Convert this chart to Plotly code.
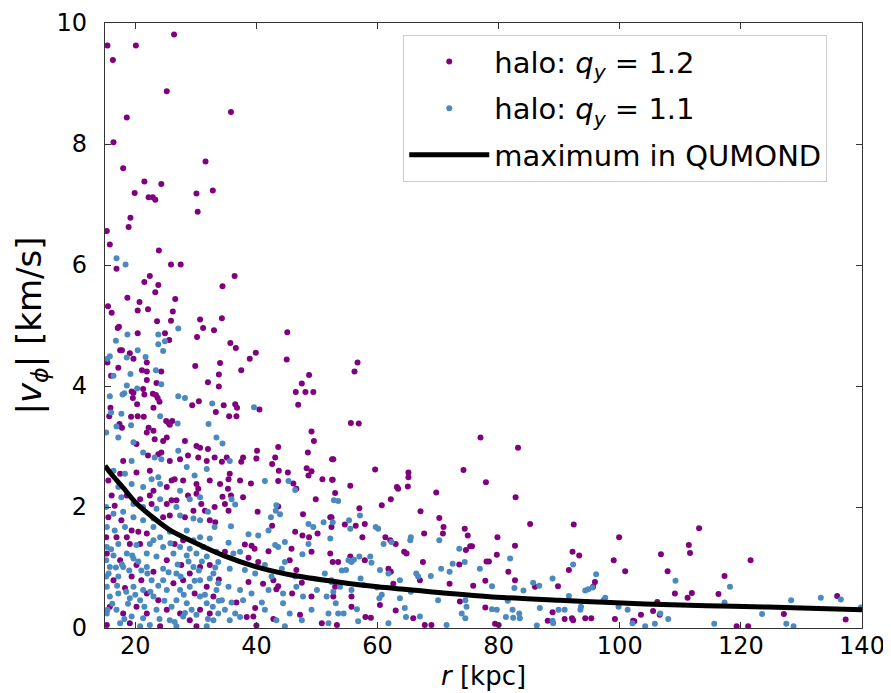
import plotly.graph_objects as go

# ---- data (r [kpc], |v_phi| [km/s]) ----
halo12_upper = [
    (15.4,9.63),(20.1,9.63),(26.4,9.81),(16.3,9.39),(25.2,8.87),(35.8,8.53),(18.6,8.44),(16.4,8.03),
    (31.6,7.71),(18.0,7.60),(21.5,7.38),(24.3,7.34),(19.9,7.19),(22.2,7.12),(22.9,7.12),(23.3,7.08),
    (30.1,7.18),(32.8,7.23),(30.3,6.88),(19.2,6.78),(18.9,6.63),(15.3,6.56),(15.8,6.34),(23.9,6.24),
    (16.9,5.94),(25.9,6.01),(27.5,6.01),(36.4,5.82),(22.4,5.82),(21.5,5.72),(23.8,5.67),(34.4,5.65),
    (23.3,5.55),(18.7,5.46),(26.6,5.44),(20.7,5.39),(15.5,5.32),(16.1,5.21),(20.4,5.25),(22.1,5.27),
    (26.2,5.23),(30.7,5.10),(34.3,5.12),(25.9,5.08),(23.6,5.07),(17.3,4.98),(17.1,4.96),(31.2,4.96),
    (33.0,4.92),(45.1,4.89),(24.9,4.87),(20.4,4.87),(30.2,4.81),(25.6,4.76),(35.7,4.71),(36.6,4.63),
    (17.5,4.59),(17.8,4.59),(19.1,4.54),(19.7,4.45),(38.9,4.45),(39.9,4.55),(45.0,4.44),(34.0,4.38),
    (29.9,4.33),(15.4,4.39),(21.9,4.39),(17.2,4.30),(21.1,4.26),(21.9,4.24),(24.3,4.24),(37.5,4.26),
    (16.0,4.17),(33.8,4.19),(48.7,4.18),(21.9,4.10),(32.0,4.06),(23.5,4.05),(33.8,3.99),(47.5,4.04),
    (21.3,3.95),(19.4,3.91),(19.7,3.89),(46.5,3.90),(48.1,3.90),(49.4,3.90),(22.9,3.87),(23.4,3.85),
    (23.7,3.80),(24.0,3.74),(19.6,3.80),(21.5,3.86),(30.5,3.75),(29.4,3.68),(34.6,3.68),(36.5,3.70),
    (36.8,3.64),(40.5,3.61),(46.9,3.69),(20.3,3.70),(23.0,3.64),(15.9,3.64),(33.3,3.57),(35.5,3.50),
    (36.7,3.50),(19.3,3.49),(20.4,3.50),(21.4,3.49),(15.7,3.50),(25.1,3.42),(25.5,3.39),(26.1,3.42),
    (25.7,3.36),(17.4,3.37),(17.8,3.31),(22.2,3.31),(56.7,4.39),(56.2,4.24),
]
halo12_inner = [
    (21.9,3.23),(23.0,3.26),(23.2,3.12),(24.6,3.09),(25.2,3.15),(28.2,3.09),(30.1,3.01),(30.7,2.98),
    (32.0,2.96),(20.2,3.04),(24.3,2.90),(23.8,2.87),(22.1,2.85),(18.0,2.76),(25.7,2.76),(27.4,2.79),
    (28.7,2.85),(30.4,2.82),(31.8,2.76),(33.1,2.82),(15.55,2.44),(17.5,2.55),(20.2,2.57),(22.4,2.60),
    (23.0,2.27),(25.2,2.33),(26.0,2.44),(26.5,2.46),(27.9,2.44),(30.1,2.38),(30.4,2.30),(30.1,2.22),
    (28.7,2.19),(32.3,2.44),(16.1,2.19),(16.6,2.02),(18.6,2.19),(20.8,2.13),(22.4,2.19),(22.7,2.05),
    (25.2,2.05),(26.0,2.11),(26.8,2.11),(30.9,2.05),(31.5,1.94),(29.6,1.94),(15.55,1.83),(17.7,1.78),
    (19.4,1.61),(20.5,1.59),(21.9,1.56),(18.6,1.50),(24.6,1.83),(25.7,1.86),(28.2,1.83),(32.3,1.78),
    (33.1,2.00),(15.2,1.50),(16.9,1.50),(19.1,1.39),(20.8,1.39),(26.5,1.39),(27.9,1.45),
    (15.3,1.23),(17.5,1.12),(20.2,1.04),(21.0,0.79),(19.4,0.85),(23.0,0.93),(25.2,1.12),(27.6,1.04),
    (29.0,0.90),(30.7,1.01),(32.3,1.04),(16.4,0.79),(18.3,0.66),(21.9,0.57),(23.8,0.46),(26.3,0.74),
    (27.9,0.79),(29.8,0.57),(31.8,0.68),(32.9,0.52),(15.8,0.35),(18.0,0.24),(20.2,0.35),(21.9,0.24),
    (25.2,0.30),(27.4,0.24),(29.0,0.13),(30.7,0.30),(32.3,0.24),(15.3,0.05),(19.1,0.08),(24.1,0.03),
    (30.1,0.03),
]
halo12_mid = [
    (49.1,3.25),(49.5,3.09),(43.6,2.99),(40.1,2.93),(43.1,2.82),(40.0,2.80),(37.8,2.82),(37.5,2.75),
    (35.1,2.82),(34.3,2.75),(42.6,2.71),(48.5,2.90),(48.3,2.64),(49.1,2.59),(48.6,2.52),(45.2,2.57),
    (43.7,2.60),(50.9,2.46),(52.5,2.45),(52.5,2.79),(35.6,2.55),(35.4,2.46),(34.0,2.38),(37.3,2.44),
    (39.1,2.39),(43.6,2.43),(46.1,2.39),(46.6,2.30),(35.3,2.30),(34.4,2.17),(35.8,2.19),(37.8,2.16),
    (34.8,2.05),(35.4,1.94),(43.6,2.01),(40.2,1.92),(49.8,2.13),(47.7,1.88),(52.2,1.83),(33.2,1.75),
    (42.6,1.69),(46.4,1.59),(47.6,1.53),(48.7,1.50),(50.1,1.56),(52.4,1.67),(38.1,1.38),(39.2,1.36),
    (39.7,1.31),(42.0,1.27),(45.8,1.31),(49.1,1.26),(52.2,1.23),(34.8,1.26),(38.7,1.16),(40.3,1.09),
    (45.5,1.12),(46.6,0.96),(33.8,0.80),(38.7,0.76),(41.1,0.73),(42.8,0.79),(43.3,0.64),(43.6,0.69),
    (47.5,0.75),(45.9,0.57),(49.1,0.52),(36.7,0.42),(39.8,0.33),(39.5,0.19),(42.8,0.15),(40.0,0.04),
    (38.4,0.18),(47.2,0.22),(50.8,0.08),
    (55.6,3.39),(56.9,3.38),(52.7,2.79),(52.6,2.45),(53.0,2.23),(55.5,2.35),(59.6,2.62),(65.1,2.57),
    (65.1,2.49),(65.0,2.34),(63.2,2.33),(63.4,2.30),(62.2,2.13),(60.7,2.03),(57.0,1.98),(69.7,2.24),
    (74.2,2.61),(67.1,1.93),(52.4,1.83),(54.6,1.71),(56.4,1.69),(57.9,1.72),(57.5,1.50),(61.3,1.50),
    (62.1,1.45),(63.0,1.39),(67.7,1.56),(70.2,1.82),(70.9,1.67),(70.8,1.56),(74.4,1.64),(74.9,1.53),
    (64.4,1.26),(64.8,1.23),(67.5,1.09),(52.6,1.09),(53.5,1.09),(55.5,1.18),(57.9,1.12),(61.8,0.98),
    (62.2,0.93),(62.6,0.73),(67.0,0.79),(71.9,0.73),(73.5,1.05),(74.6,1.29),(73.6,0.44),(53.0,0.68),
    (52.7,0.52),(55.7,0.52),(55.7,0.35),(58.0,0.18),(58.9,0.17),(60.4,0.38),(63.0,0.29),(65.9,0.16),
    (67.8,0.05),(53.3,0.05),(68.9,0.05),
]
halo12_outer = [
    (77.0,3.15),(83.2,2.98),(77.9,2.41),(82.8,2.16),(85.2,1.72),(92.4,1.71),(79.8,1.50),(82.7,1.36),
    (75.3,1.35),(75.6,1.35),(92.2,1.26),(93.3,1.20),(78.0,1.10),(78.4,1.10),(79.7,1.21),(81.6,0.93),
    (91.6,0.96),(77.8,0.78),(82.7,0.79),(75.8,0.70),(89.8,0.69),(95.9,0.76),(95.6,0.68),(86.0,0.68),
    (77.8,0.34),(88.9,0.26),(88.1,0.12),(90.9,0.15),(92.1,0.16),(92.3,0.13),(94.3,0.16),(95.3,0.16),
    (79.4,0.07),(80.0,0.05),
    (99.9,1.50),(99.0,1.12),(100.9,0.94),(106.8,1.22),(107.9,0.94),(111.4,1.37),(111.6,1.24),(113.1,1.65),
    (121.6,1.12),(117.3,0.86),(109.1,0.57),(111.2,0.50),(111.9,0.58),(116.3,0.56),(106.2,0.43),(105.5,0.28),
    (106.6,0.22),(103.5,0.22),(102.2,0.12),(102.4,0.11),(99.2,0.15),(119.3,0.03),(121.2,0.03),(127.1,0.23),
    (135.9,0.53),(137.3,0.14),
]

halo11_upper = [
    (16.9,6.11),(18.4,6.01),(27.1,4.95),(18.7,4.85),(23.8,4.85),(16.8,4.75),(24.9,4.74),(23.8,4.69),
    (20.4,4.59),(24.6,4.58),(15.8,4.49),(15.4,4.45),(18.6,4.47),(21.7,4.48),(23.4,4.26),(19.2,4.20),
    (16.4,4.17),(18.6,4.01),(24.3,4.03),(20.3,3.96),(15.8,3.83),(17.9,3.86),(18.2,3.88),(27.1,3.83),
    (28.2,3.80),(32.7,3.71),(39.6,3.65),(16.0,3.56),(17.7,3.54),(24.1,3.50),(27.0,3.38),(32.1,3.37),
    (19.3,3.35),(16.9,3.33),
]
halo11_inner = [
    (15.2,3.23),(17.2,3.15),(19.7,3.07),(21.3,2.90),(27.1,2.93),(23.2,2.82),(24.3,2.79),(19.4,2.76),
    (33.4,3.15),(16.4,2.60),(18.3,2.55),(22.7,2.46),(23.8,2.49),(24.1,2.38),(28.5,2.66),(29.8,2.52),
    (31.8,2.63),(17.2,2.33),(19.4,2.38),(21.3,2.33),(17.7,2.16),(19.7,2.05),(21.3,2.00),(23.5,1.97),
    (26.8,2.00),(29.0,2.13),(30.7,2.16),(27.4,2.27),(24.1,2.13),(15.2,2.00),(16.4,1.89),(18.0,1.92),
    (19.7,1.83),(21.3,1.78),(23.0,1.81),(27.4,1.86),(29.6,1.81),(30.7,1.78),(32.0,1.92),(33.1,1.67),
    (15.3,1.67),(16.6,1.61),(18.3,1.67),(23.0,1.67),(24.1,1.50),(25.7,1.59),(28.5,1.61),(29.6,1.45),
    (30.7,1.50),(32.3,1.48),(15.3,1.34),(17.2,1.39),(20.2,1.37),(22.4,1.39),(24.6,1.34),(27.4,1.34),
    (29.0,1.31),(31.2,1.34),
    (15.2,1.12),(16.4,1.20),(18.6,1.23),(19.7,1.15),(21.9,1.23),(23.5,1.18),(26.3,1.23),(28.5,1.20),
    (30.1,1.23),(31.8,1.18),(33.4,1.26),(15.8,1.01),(18.0,1.01),(21.9,1.01),(24.6,0.98),(26.8,0.90),
    (29.6,1.01),(32.9,0.90),(15.2,0.85),(17.2,0.85),(22.7,0.79),(24.6,0.79),(27.4,0.63),(30.7,0.79),
    (32.3,0.82),(15.3,0.68),(17.2,0.57),(19.7,0.68),(21.3,0.63),(25.2,0.63),(29.0,0.68),(30.7,0.52),
    (33.4,0.63),(15.8,0.52),(19.1,0.49),(20.8,0.46),(23.0,0.52),(26.8,0.46),(28.5,0.41),(31.8,0.41),
    (15.3,0.24),(16.9,0.30),(19.4,0.19),(21.3,0.16),(23.5,0.30),(25.7,0.13),(27.9,0.19),(30.1,0.22),
    (32.9,0.13),(17.5,0.08),(20.8,0.03),(22.4,0.05),(26.8,0.03),(31.8,0.03),(33.7,0.24),
    (16.0,1.30),(17.8,1.05),(19.0,0.95),(20.5,1.10),(22.0,0.90),(23.8,0.70),(25.5,0.92),(26.0,0.35),
    (27.0,1.05),(28.0,0.55),(29.3,0.30),(30.5,0.95),(31.5,0.55),(32.8,0.35),(16.2,0.40),(18.8,0.40),
    (21.5,0.35),(24.0,0.15),(15.6,0.90),(17.0,0.70),(18.5,0.60),(20.0,0.55),(22.5,0.60),(24.8,0.45),
    (27.5,0.85),(29.8,0.78),(31.0,1.10),(33.2,1.00),(19.5,1.20),(23.0,1.45),(25.8,1.40),(16.8,1.00),
    (28.8,1.10),(21.0,0.95),(15.4,0.30),(32.0,0.15),(26.5,0.10),(18.2,0.15),(33.8,0.45),(28.2,0.25),
]
halo11_mid = [
    (34.4,3.05),(35.6,2.76),(41.4,2.43),(45.3,2.43),(46.4,2.28),(35.9,2.13),(36.5,2.04),(43.3,2.03),
    (43.2,1.94),(42.4,1.83),(43.9,1.88),(35.8,1.68),(38.7,1.55),(40.3,1.53),(42.0,1.61),(35.4,1.41),
    (43.1,1.37),(44.7,1.42),(48.6,1.72),(49.4,1.67),(51.1,1.75),(52.2,1.48),(48.6,1.39),(36.2,1.23),
    (37.3,1.26),(43.6,1.34),(44.7,1.09),(47.6,1.22),(33.7,1.09),(35.6,0.98),(38.1,0.96),(39.8,0.90),
    (41.4,1.04),(42.5,0.85),(44.2,0.98),(46.4,0.85),(51.3,0.90),(52.4,0.79),(33.7,0.74),(35.4,0.68),
    (37.3,0.63),(39.2,0.57),(42.0,0.63),(44.4,0.57),(46.6,0.68),(50.0,0.63),(34.3,0.46),(35.9,0.42),
    (37.8,0.46),(40.9,0.42),(44.4,0.41),(47.7,0.52),(51.6,0.52),(34.8,0.30),(36.5,0.24),(41.4,0.30),
    (45.5,0.24),(49.1,0.30),(51.9,0.24),(35.6,0.13),(37.3,0.18),(43.3,0.13),(47.5,0.13),(51.9,0.08),
    (44.7,0.03),
    (52.8,2.11),(53.5,2.10),(52.6,1.75),(55.3,1.78),(57.1,1.86),(55.5,1.64),(59.7,1.67),(60.1,1.64),
    (61.0,1.39),(62.3,1.42),(65.5,1.50),(65.4,1.45),(70.2,1.45),(55.2,1.12),(55.7,1.09),(56.1,1.13),
    (57.0,1.18),(58.8,1.18),(59.0,1.08),(54.1,0.95),(54.8,0.96),(57.2,0.82),(60.4,0.96),(61.8,0.90),
    (63.7,0.79),(66.4,0.90),(66.7,0.85),(68.8,0.86),(70.5,0.98),(71.9,0.93),(72.4,1.06),(73.5,1.31),
    (74.4,1.09),(52.4,0.76),(52.7,0.60),(53.8,0.68),(55.7,0.63),(57.7,0.71),(59.9,0.67),(60.7,0.55),
    (63.7,0.49),(65.5,0.60),(70.0,0.46),(53.1,0.41),(54.4,0.24),(56.6,0.31),(60.3,0.49),(61.8,0.08),
    (64.5,0.33),(64.7,0.18),(67.0,0.19),(73.9,0.24),(71.4,0.05),(56.8,0.11),(53.5,0.24),(74.7,0.35),
]
halo11_outer = [
    (76.9,0.98),(81.9,1.15),(92.3,1.05),(96.1,0.89),(78.9,0.69),(82.6,0.66),(84.1,0.62),(85.7,0.75),
    (86.7,0.70),(88.9,0.82),(94.3,0.62),(94.8,0.64),(95.5,0.67),(74.5,0.46),(81.5,0.45),(91.6,0.53),
    (93.5,0.30),(93.6,0.35),(78.9,0.31),(79.7,0.30),(82.3,0.30),(83.4,0.24),(81.2,0.18),(82.4,0.17),
    (83.5,0.16),(89.9,0.30),(90.9,0.30),(86.8,0.33),(88.9,0.12),(89.0,0.08),(97.3,0.46),(74.5,0.16),
    (86.3,0.04),
    (97.6,0.50),(99.8,0.35),(101.3,0.30),(109.2,0.78),(108.0,0.15),(106.7,0.24),(118.2,0.68),(117.3,0.42),
    (115.6,0.07),(123.5,0.23),(128.3,0.46),(127.5,0.07),(128.7,0.03),(133.2,0.50),(136.5,0.47),(139.8,0.34),
    (102.1,0.08),(104.2,0.03),(105.8,0.07),
]

qumond_r = [15, 16, 18, 20, 23.5, 26, 29, 34.5, 40, 45.5, 53.5, 60, 68.7, 79.7, 90, 98.4, 110, 118.7, 130, 140]
qumond_v = [2.68, 2.55, 2.32, 2.08, 1.78, 1.60, 1.45, 1.20, 1.01, 0.88, 0.76, 0.68, 0.60, 0.51, 0.46, 0.42, 0.38, 0.36, 0.33, 0.30]

x_ticks = [20, 40, 60, 80, 100, 120, 140]
y_ticks = [0, 2, 4, 6, 8, 10]

PURPLE = "#800080"
BLUE = "#4a8ac0"
FONT = "DejaVu Sans"

halo12 = halo12_upper + halo12_inner + halo12_mid + halo12_outer
halo11 = halo11_upper + halo11_inner + halo11_mid + halo11_outer

fig = go.Figure()
fig.add_trace(go.Scatter(
    x=[p[0] for p in halo12], y=[p[1] for p in halo12], mode="markers",
    marker=dict(color=PURPLE, size=6, line=dict(width=0)),
    name="halo: <i>q</i><sub><i>y</i></sub> = 1.2", legendgroup="a"))
fig.add_trace(go.Scatter(
    x=[p[0] for p in halo11], y=[p[1] for p in halo11], mode="markers",
    marker=dict(color=BLUE, size=6, line=dict(width=0)),
    name="halo: <i>q</i><sub><i>y</i></sub> = 1.1", legendgroup="b"))
fig.add_trace(go.Scatter(
    x=qumond_r, y=qumond_v, mode="lines",
    line=dict(color="black", width=5, shape="spline", smoothing=0.8),
    name="maximum in QUMOND", legendgroup="c"))

axis_common = dict(
    showline=True, linecolor="#333333", linewidth=1.2, mirror="ticks",
    ticks="inside", ticklen=6, tickcolor="#333333", showgrid=False, zeroline=False,
    automargin=False, ticklabeloverflow="allow",
    tickfont=dict(family=FONT, size=24, color="black"),
)
fig.update_xaxes(range=[15, 140], tickvals=x_ticks, ticklabelstandoff=-4, **axis_common)
fig.update_yaxes(range=[0, 10], tickvals=y_ticks, ticklabelstandoff=12,
                 title=dict(text="|<i>v</i><sub><i>ϕ</i></sub>| [km/s]",
                            font=dict(family=FONT, size=34, color="black"), standoff=4),
                 **axis_common)

fig.add_annotation(text="<i>r</i> [kpc]", xref="paper", yref="paper", x=0.5, y=-0.080,
                   xanchor="center", yanchor="middle", showarrow=False,
                   font=dict(family=FONT, size=26, color="black"))

# the page body adds an 8 px offset, so the figure is sized to fit the 891x693 window
fig.update_layout(
    width=883, height=685,
    margin=dict(l=97, r=29, t=15, b=65),
    paper_bgcolor="white", plot_bgcolor="white",
    showlegend=True,
    legend=dict(
        x=0.394, y=0.98, xanchor="left", yanchor="top",
        bgcolor="rgba(255,255,255,0.9)", bordercolor="#cccccc", borderwidth=1,
        font=dict(family=FONT, size=29, color="black"),
        traceorder="grouped", tracegroupgap=6, itemsizing="trace", itemwidth=80,
    ),
)

fig.write_html("out.html")
